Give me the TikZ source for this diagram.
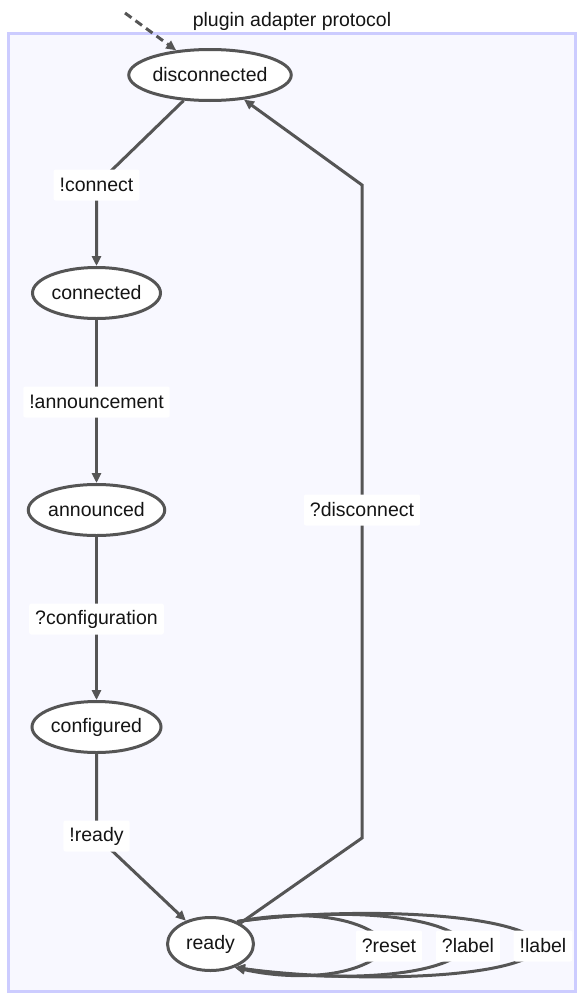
\documentclass[tikz,border=0pt]{standalone}
\usepackage{fontspec}
\setmainfont{Liberation Sans}
\usetikzlibrary{arrows.meta,shapes.geometric}
\definecolor{edgec}{RGB}{85,85,85}
\definecolor{boxfill}{RGB}{248,248,255}
\definecolor{boxline}{RGB}{204,204,255}
\definecolor{txt}{RGB}{20,20,20}
\pgfdeclarelayer{bg}
\pgfdeclarelayer{edges}
\pgfsetlayers{bg,edges,main}
\tikzset{
  state/.style={ellipse,draw=edgec,line width=3pt,fill=white,minimum height=51pt,inner sep=0pt,text=txt,font=\fontsize{19.5}{23}\selectfont},
  lbl/.style={fill=white,rounded corners=2pt,inner xsep=6pt,minimum height=31pt,text=txt,font=\fontsize{19.5}{23}\selectfont},
  edge/.style={draw=edgec,line width=3pt,-{Triangle[length=10pt,width=9pt]}},
  titlec/.style={text=txt,font=\fontsize{19.5}{23}\selectfont}
}
\begin{document}
\begin{tikzpicture}[x=1pt,y=-1pt]
\useasboundingbox (0,0) rectangle (584,1001);
\begin{pgfonlayer}{bg}
\draw[fill=boxfill,draw=boxline,line width=3pt] (8,33) rectangle (575,991);
\end{pgfonlayer}
\node[titlec] (title) at (292,21) {plugin adapter protocol};
\node[state,minimum width=152pt] (dis) at (210,75) {disconnected};
\node[state,minimum width=128pt] (con) at (96.5,293) {connected};
\node[state,minimum width=131pt] (ann) at (96.5,510) {announced};
\node[state,minimum width=129pt] (cfg) at (96.5,727) {configured};
\node[state,minimum width=86pt,minimum height=53pt] (rdy) at (210.5,944) {ready};
\node[lbl] (l1) at (96.5,185) {!connect};
\node[lbl] (l2) at (96.5,402) {!announcement};
\node[lbl] (l3) at (96.5,619) {?configuration};
\node[lbl] (l4) at (96.5,836) {!ready};
\node[lbl] (l5) at (362,510) {?disconnect};
\node[lbl] (l6) at (389,946) {?reset};
\node[lbl] (l7) at (468,946) {?label};
\node[lbl] (l8) at (543,946) {!label};
\coordinate (start) at (125,13);
\coordinate (d1) at (362,838);
\coordinate (d2) at (362,185);
\begin{pgfonlayer}{edges}
\draw[edge,dash pattern=on 8pt off 5pt] (start) -- (dis);
\draw[edge] (dis) -- (l1.center) -- (con);
\draw[edge] (con) -- (l2.center) -- (ann);
\draw[edge] (ann) -- (l3.center) -- (cfg);
\draw[edge] (cfg) -- (l4.center) -- (rdy);
\draw[edge] (rdy) -- (d1) -- (d2) -- (dis);
\draw[edge] (rdy.40) .. controls (290,911) and (362,912) .. (l6.center) .. controls (362,980) and (290,980) .. (rdy.-44);
\draw[edge] (rdy.40) .. controls (320,909) and (445,910) .. (l7.center) .. controls (445,981) and (320,981) .. (rdy.-44);
\draw[edge] (rdy.40) .. controls (340,907) and (520,910) .. (l8.center) .. controls (520,982) and (340,982) .. (rdy.-44);
\end{pgfonlayer}
\end{tikzpicture}
\end{document}
